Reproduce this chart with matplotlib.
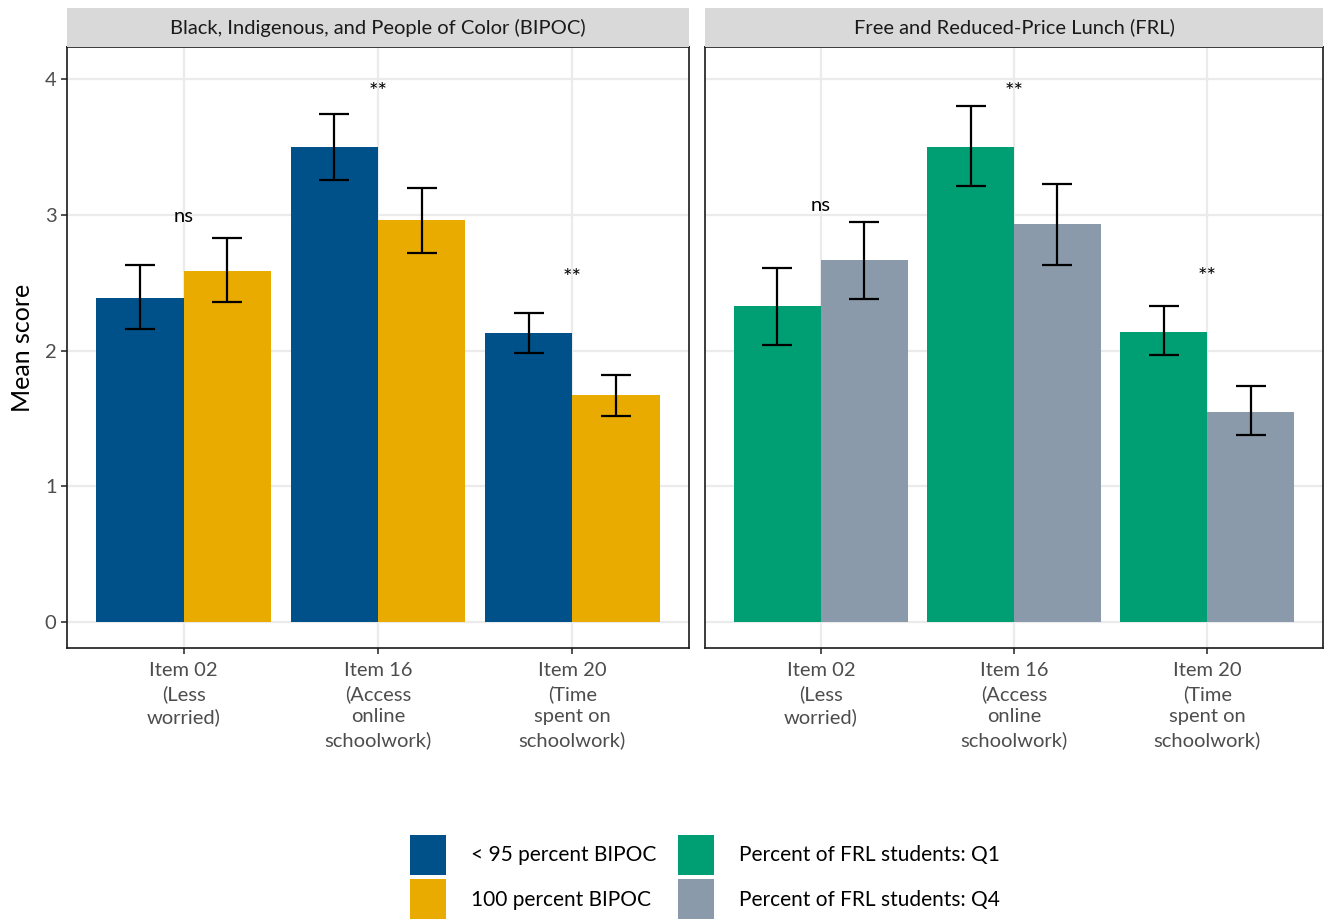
import numpy as np
import matplotlib
matplotlib.use("Agg")
import matplotlib.pyplot as plt
from matplotlib.patches import Patch

plt.rcParams['font.family'] = ['Lato', 'DejaVu Sans']

# Daten
items = ["Item 02\n(Less\nworried)", "Item 16\n(Access\nonline\nschoolwork)",
         "Item 20\n(Time\nspent on\nschoolwork)"]
panel_titles = ["Black, Indigenous, and People of Color (BIPOC)",
                "Free and Reduced-Price Lunch (FRL)"]
signif = ["ns", "**", "**"]

bipoc_low_mean = [2.39, 3.50, 2.13]
bipoc_low_lo = [2.16, 3.26, 1.98]
bipoc_low_hi = [2.63, 3.74, 2.28]
bipoc_100_mean = [2.59, 2.96, 1.67]
bipoc_100_lo = [2.36, 2.72, 1.52]
bipoc_100_hi = [2.83, 3.20, 1.82]

frl_q1_mean = [2.33, 3.50, 2.14]
frl_q1_lo = [2.04, 3.21, 1.97]
frl_q1_hi = [2.61, 3.80, 2.33]
frl_q4_mean = [2.67, 2.93, 1.55]
frl_q4_lo = [2.38, 2.63, 1.38]
frl_q4_hi = [2.95, 3.23, 1.74]

labels = ["< 95 percent BIPOC", "100 percent BIPOC",
          "Percent of FRL students: Q1", "Percent of FRL students: Q4"]
colors = ["#00518A", "#E9AB00", "#009E73", "#8A9AAB"]

panels = [
    [(bipoc_low_mean, bipoc_low_lo, bipoc_low_hi), (bipoc_100_mean, bipoc_100_lo, bipoc_100_hi)],
    [(frl_q1_mean, frl_q1_lo, frl_q1_hi), (frl_q4_mean, frl_q4_lo, frl_q4_hi)],
]

fig = plt.figure(figsize=(13.25, 9.21), dpi=100)
W, H = 1325, 921
ax_l = fig.add_axes([67 / W, 1 - 648 / H, 622 / W, 601 / H])
ax_r = fig.add_axes([705 / W, 1 - 648 / H, 618 / W, 601 / H])

x = np.arange(1, 4)
bw = 0.45
grid_c = "#EBEBEB"

for p, ax in enumerate([ax_l, ax_r]):
    for g, (m, lo, hi) in enumerate(panels[p]):
        m = np.array(m)
        xs = x + (g - 0.5) * bw
        ax.bar(xs, m, width=bw, color=colors[p * 2 + g], zorder=2)
        ax.errorbar(xs, m, yerr=[m - np.array(lo), np.array(hi) - m], fmt="none",
                    ecolor="black", elinewidth=1.6, capsize=10.5, capthick=1.6, zorder=3)
    tops = np.maximum(panels[p][0][0], panels[p][1][0])
    for i in range(3):
        ax.text(x[i], tops[i] + 0.36, signif[i], ha="center", va="baseline",
                fontsize=14.5 if signif[i] == "ns" else 16, color="black", zorder=4)
    ax.set_xlim(0.4, 3.6)
    ax.set_ylim(-0.19, 4.236)
    ax.set_xticks(x)
    ax.set_xticklabels(items, fontsize=14.5, color="#4D4D4D", linespacing=1.4)
    ax.set_yticks(range(5))
    ax.grid(True, color=grid_c, linewidth=1.6, zorder=0)
    ax.set_axisbelow(True)
    ax.tick_params(axis="both", length=4, width=1.2, color="#333333", labelcolor="#4D4D4D",
                   labelsize=14.5)
    ax.tick_params(axis="x", pad=6)
    for s in ax.spines.values():
        s.set_color("#1A1A1A")
        s.set_linewidth(1.2)

    # Streifen oben
    pos = ax.get_position()
    sax = fig.add_axes([pos.x0, pos.y1, pos.width, 39 / H])
    sax.set_facecolor("#D9D9D9")
    sax.set_xticks([])
    sax.set_yticks([])
    for s in sax.spines.values():
        s.set_visible(False)
    sax.text(0.5, 0.5, panel_titles[p], ha="center", va="center", fontsize=14.5,
             color="#1A1A1A", transform=sax.transAxes)

ax_r.tick_params(axis="y", labelleft=False, length=0)

ax_l.set_ylabel("Mean score", fontsize=18, color="black", labelpad=8)

handles = [Patch(facecolor=c, edgecolor="none") for c in colors]
fig.legend(handles, labels, ncol=2, loc="center", bbox_to_anchor=(705 / W, 1 - 877 / H),
           frameon=False, fontsize=15, handlelength=1.75, handleheight=2.6,
           handletextpad=1.2, columnspacing=1.0, labelspacing=0.2)

fig.savefig("out.png", dpi=100)
